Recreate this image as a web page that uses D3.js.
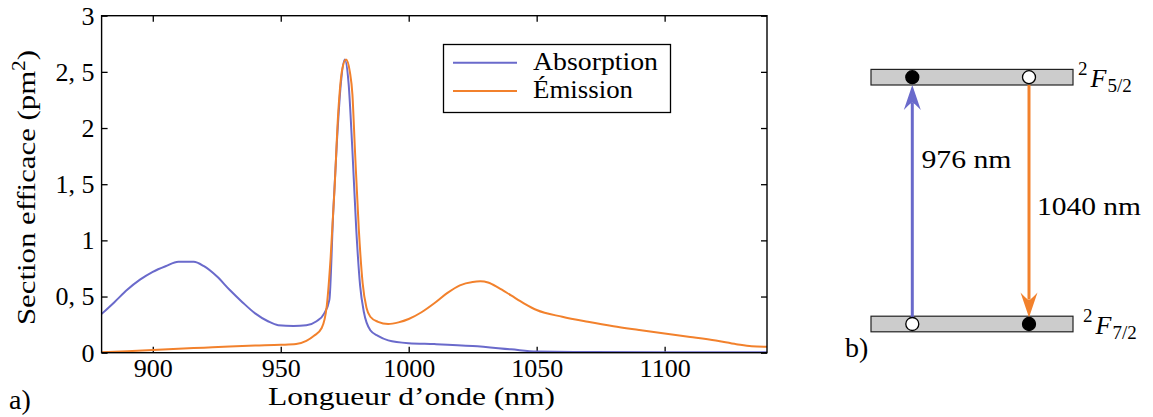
<!DOCTYPE html>
<html>
<head>
<meta charset="utf-8">
<script src="https://cdn.jsdelivr.net/npm/d3@7/dist/d3.min.js"></script>
<style>
  body { margin: 0; background: #fff; }
  text { font-family: "Liberation Serif", "Times New Roman", serif; fill: #000; }
</style>
</head>
<body>
<svg id="chart" width="1153" height="417"></svg>
<script>
// Absorption cross-section (pm^2) vs wavelength (nm)
var absWl  = [880, 885, 890, 895, 900, 905, 910, 916, 920, 925, 930, 935, 940, 945, 949, 955, 960, 964, 967, 969,
              970.5, 972, 973.5, 975, 976.5, 978, 979.5, 981, 982.5, 985, 988, 992, 1000, 1010, 1025, 1040, 1050, 1070, 1100, 1140];
var absVal = [0.345, 0.45, 0.56, 0.65, 0.72, 0.77, 0.81, 0.81, 0.77, 0.68, 0.56, 0.45, 0.35, 0.28, 0.245, 0.238, 0.245, 0.28, 0.35, 0.47,
              1.25, 1.9, 2.4, 2.61, 2.4, 1.8, 1.1, 0.6, 0.36, 0.2, 0.15, 0.11, 0.085, 0.077, 0.06, 0.03, 0.01, 0.006, 0.005, 0.005];

// Emission cross-section (pm^2) vs wavelength (nm)
var emWl  = [880, 890, 900, 910, 920, 930, 940, 950, 956, 960, 963, 966, 968, 969.5, 971, 972.5, 974, 975.5, 977, 978, 979,
             980.5, 982, 983.5, 985, 988, 992, 996, 1000, 1005, 1010, 1015, 1020, 1025, 1028, 1031, 1035, 1040, 1045, 1050,
             1060, 1070, 1080, 1090, 1100, 1110, 1120, 1128, 1134, 1140];
var emVal = [0.004, 0.012, 0.024, 0.035, 0.045, 0.055, 0.063, 0.07, 0.077, 0.105, 0.15, 0.22, 0.42, 0.85, 1.45, 2.15, 2.52, 2.61, 2.5, 2.3, 1.8,
             1.1, 0.62, 0.4, 0.32, 0.275, 0.255, 0.27, 0.3, 0.36, 0.44, 0.53, 0.6, 0.63, 0.635, 0.625, 0.58, 0.51, 0.44, 0.38,
             0.32, 0.275, 0.235, 0.202, 0.17, 0.14, 0.108, 0.076, 0.057, 0.053];

var seriesNames  = ["Absorption", "Émission"];
var seriesColors = ["#6a6acb", "#f2812c"];

var xTicks = [900, 950, 1000, 1050, 1100];
var yTicks = [0, 0.5, 1, 1.5, 2, 2.5, 3];
var yTickLabels = ["0", "0, 5", "1", "1, 5", "2", "2, 5", "3"];

// Energy level diagram
var levels = ["5/2", "7/2"];            // upper, lower (2F_J)
var columns = ["pump", "laser"];
var transitions = [
  { label: "976 nm",  col: "pump",  from: "7/2", to: "5/2", color: seriesColors[0] },
  { label: "1040 nm", col: "laser", from: "5/2", to: "7/2", color: seriesColors[1] }
];
var electrons = [
  { col: "pump",  level: "5/2", filled: true },
  { col: "laser", level: "5/2", filled: false },
  { col: "pump",  level: "7/2", filled: false },
  { col: "laser", level: "7/2", filled: true }
];

function draw() {
  var svg = d3.select("#chart");

  var pLeft = 101.6, pRight = 767, pTop = 15.7, pBottom = 352.7;

  var x = d3.scaleLinear().domain([880, 1140]).range([pLeft, pRight]);
  var y = d3.scaleLinear().domain([0, 3]).range([pBottom, pTop]);

  var plot = svg.append("g");

  svg.append("clipPath").attr("id", "clip")
    .append("rect").attr("x", pLeft).attr("y", pTop).attr("width", pRight - pLeft).attr("height", pBottom - pTop);

  // axes (inward ticks)
  plot.append("g")
    .attr("transform", "translate(0," + pBottom + ")")
    .call(d3.axisBottom(x).tickValues(xTicks).tickSize(-6).tickPadding(6).tickFormat(d3.format("d")))
    .call(function(g) { g.select(".domain").remove(); });

  plot.append("g")
    .attr("transform", "translate(0," + pTop + ")")
    .call(d3.axisTop(x).tickValues(xTicks).tickSize(-6).tickFormat(""))
    .call(function(g) { g.select(".domain").remove(); });

  plot.append("g")
    .attr("transform", "translate(" + pLeft + ",0)")
    .call(d3.axisLeft(y).tickValues(yTicks).tickSize(-6).tickPadding(7)
      .tickFormat(function(d, i) { return yTickLabels[i]; }))
    .call(function(g) { g.select(".domain").remove(); });

  plot.append("g")
    .attr("transform", "translate(" + pRight + ",0)")
    .call(d3.axisRight(y).tickValues(yTicks).tickSize(-6).tickFormat(""))
    .call(function(g) { g.select(".domain").remove(); });

  plot.selectAll(".tick line").attr("stroke", "#000").attr("stroke-width", 1.3);
  plot.selectAll(".tick text").style("font-size", "26px");

  // curves
  var line = d3.line()
    .x(function(d) { return x(d[0]); })
    .y(function(d) { return y(d[1]); })
    .curve(d3.curveMonotoneX);

  var series = [d3.zip(absWl, absVal), d3.zip(emWl, emVal)];

  plot.append("g").attr("clip-path", "url(#clip)")
    .selectAll("path")
    .data(series)
    .enter()
    .append("path")
    .attr("d", line)
    .attr("fill", "none")
    .attr("stroke", function(d, i) { return seriesColors[i]; })
    .attr("stroke-width", 2);

  // frame
  plot.append("rect")
    .attr("x", pLeft).attr("y", pTop)
    .attr("width", pRight - pLeft).attr("height", pBottom - pTop)
    .attr("fill", "none").attr("stroke", "#000").attr("stroke-width", 1.4);

  // legend
  var legend = plot.append("g");
  legend.append("rect")
    .attr("x", 443.5).attr("y", 44.5).attr("width", 227).attr("height", 68)
    .attr("fill", "#fff").attr("stroke", "#000").attr("stroke-width", 1.3);

  var entries = legend.selectAll("g.entry")
    .data(seriesNames)
    .enter()
    .append("g")
    .attr("transform", function(d, i) { return "translate(0," + (62.7 + i * 28.3) + ")"; });

  entries.append("line")
    .attr("x1", 453).attr("x2", 517)
    .attr("stroke", function(d, i) { return seriesColors[i]; })
    .attr("stroke-width", 2);

  entries.append("text")
    .attr("x", 533).attr("y", 7)
    .style("font-size", "26px")
    .attr("textLength", function(d, i) { return i === 0 ? 125 : 100; })
    .attr("lengthAdjust", "spacingAndGlyphs")
    .text(function(d) { return d; });

  // axis labels
  plot.append("text")
    .attr("x", 411.5).attr("y", 405)
    .attr("text-anchor", "middle")
    .style("font-size", "26px")
    .attr("textLength", 287)
    .attr("lengthAdjust", "spacingAndGlyphs")
    .text("Longueur d\u2019onde (nm)");

  var yl = plot.append("text")
    .attr("transform", "translate(35,187.5) rotate(-90)")
    .attr("text-anchor", "middle")
    .style("font-size", "26px")
    .attr("textLength", 275)
    .attr("lengthAdjust", "spacingAndGlyphs");
  yl.append("tspan").text("Section efficace (pm");
  yl.append("tspan").attr("dy", -10).style("font-size", "18px").text("2");
  yl.append("tspan").attr("dy", 10).text(")");

  svg.append("text").attr("x", 9).attr("y", 409).style("font-size", "28px").text("a)");
  svg.append("text").attr("x", 845).attr("y", 357).style("font-size", "28px").text("b)");

  // ---- energy level diagram ----
  var dia = svg.append("g");
  var xCol = d3.scalePoint().domain(columns).range([912.3, 1029]);
  var yLev = d3.scalePoint().domain(levels).range([77.2, 324]);
  var barX0 = 871, barX1 = 1073, barH = 15.6, r = 6.5;

  dia.selectAll("rect.level")
    .data(levels)
    .enter()
    .append("rect")
    .attr("x", barX0).attr("y", function(d) { return yLev(d) - barH / 2; })
    .attr("width", barX1 - barX0).attr("height", barH)
    .attr("fill", "#cccccc").attr("stroke", "#222").attr("stroke-width", 1.2);

  // arrows
  transitions.forEach(function(t) {
    var cx = xCol(t.col);
    var up = yLev(t.to) < yLev(t.from);
    var y0 = up ? yLev(t.from) - r : yLev(t.from) + barH / 2;
    var y1 = up ? yLev(t.to) + barH / 2 : yLev(t.to) - r;
    var dir = up ? 1 : -1;   // direction from tip back to tail
    var headL = 25, notch = 18, headW = 8.5;
    dia.append("line")
      .attr("x1", cx).attr("x2", cx)
      .attr("y1", y0).attr("y2", y1 + dir * notch)
      .attr("stroke", t.color).attr("stroke-width", 3);
    dia.append("path")
      .attr("d", "M" + cx + "," + y1 +
                 "L" + (cx + headW) + "," + (y1 + dir * headL) +
                 "Q" + cx + "," + (y1 + dir * (notch - 2)) + " " + cx + "," + (y1 + dir * notch) +
                 "Q" + cx + "," + (y1 + dir * (notch - 2)) + " " + (cx - headW) + "," + (y1 + dir * headL) + "Z")
      .attr("fill", t.color);
  });

  dia.selectAll("circle")
    .data(electrons)
    .enter()
    .append("circle")
    .attr("cx", function(d) { return xCol(d.col); })
    .attr("cy", function(d) { return yLev(d.level); })
    .attr("r", r)
    .attr("fill", function(d) { return d.filled ? "#000" : "#fff"; })
    .attr("stroke", "#000").attr("stroke-width", 1.3);

  // transition labels
  dia.append("text").attr("x", 921.5).attr("y", 168).style("font-size", "26px")
    .attr("textLength", 90).attr("lengthAdjust", "spacingAndGlyphs").text(transitions[0].label);
  dia.append("text").attr("x", 1037).attr("y", 215).style("font-size", "26px")
    .attr("textLength", 104).attr("lengthAdjust", "spacingAndGlyphs").text(transitions[1].label);

  // level labels 2F_J
  var levLabelX = [1078, 1083];
  levels.forEach(function(l, i) {
    var base = yLev(l) + 9.5;
    var t = dia.append("text").attr("x", levLabelX[i]).attr("y", base);
    t.append("tspan").attr("dy", -12).style("font-size", "19px").text("2");
    t.append("tspan").attr("dy", 12).attr("dx", 3).style("font-size", "26px").style("font-style", "italic").text("F");
    t.append("tspan").attr("dy", 5).attr("dx", 1).style("font-size", "19px").text(l);
  });
}

draw();
</script>
</body>
</html>
